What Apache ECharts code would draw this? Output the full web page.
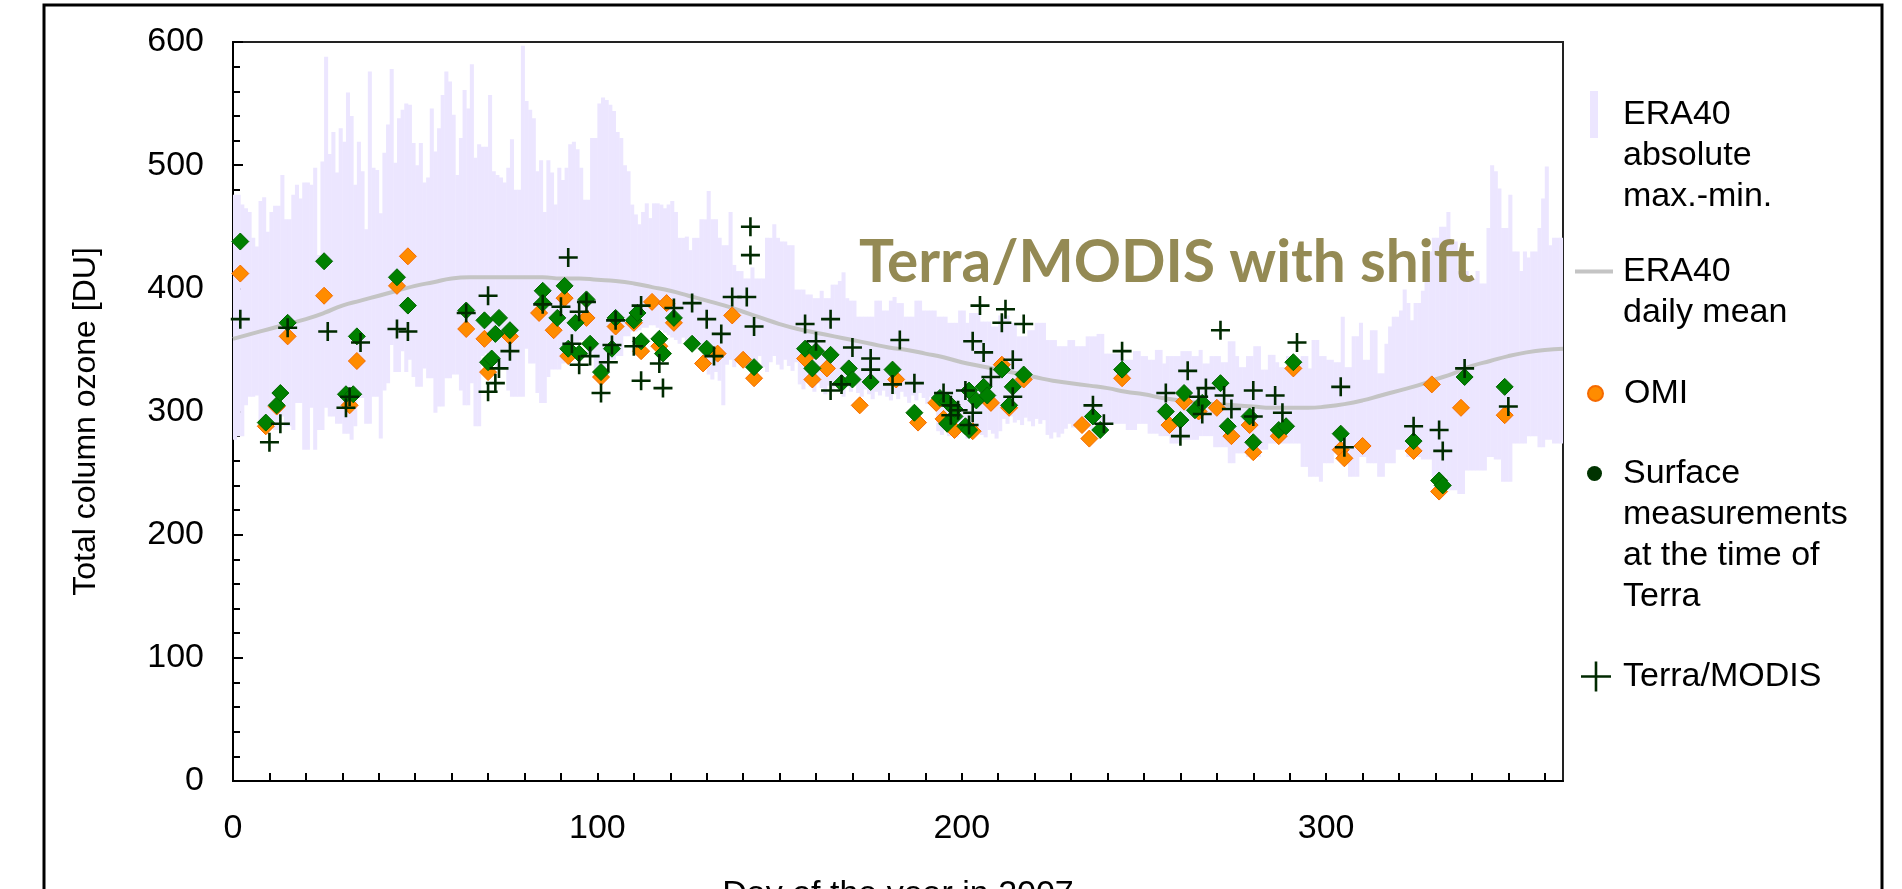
<!DOCTYPE html>
<html>
<head>
<meta charset="utf-8">
<title>Total column ozone 2007</title>
<script src="https://cdn.jsdelivr.net/npm/echarts@6/dist/echarts.min.js"></script>
<style>
  html, body { margin: 0; padding: 0; background: #fff; }
  #chart { width: 1902px; height: 889px; }
</style>
</head>
<body>
<div id="chart"></div>
<script>
// ERA40 absolute daily max / min (DU), day 0..364
var era40Max = [
    476, 476, 468, 465, 462, 441, 434, 471, 474, 446,
    462, 467, 467, 492, 456, 456, 476, 484, 473, 486,
    486, 484, 498, 427, 503, 588, 509, 527, 494, 530,
    519, 559, 540, 484, 519, 495, 448, 576, 498, 496,
    461, 510, 533, 578, 502, 538, 545, 550, 549, 518,
    500, 518, 486, 490, 546, 511, 530, 557, 576, 568,
    541, 492, 522, 561, 546, 582, 506, 517, 515, 515,
    557, 495, 492, 490, 486, 498, 521, 480, 480, 597,
    552, 545, 538, 495, 504, 462, 504, 494, 468, 498,
    488, 498, 517, 519, 513, 498, 472, 472, 522, 522,
    550, 555, 553, 549, 544, 527, 522, 500, 495, 468,
    460, 452, 462, 469, 457, 469, 469, 468, 465, 468,
    471, 462, 441, 441, 442, 431, 441, 441, 456, 456,
    479, 456, 456, 441, 435, 435, 462, 419, 414, 414,
    408, 408, 417, 408, 408, 408, 441, 441, 452, 441,
    438, 438, 435, 435, 399, 399, 399, 395, 395, 392,
    392, 398, 392, 392, 403, 403, 406, 413, 392, 390,
    390, 377, 377, 377, 377, 377, 390, 390, 382, 382,
    390, 393, 388, 388, 377, 377, 377, 390, 390, 382,
    382, 382, 382, 377, 377, 377, 372, 372, 372, 382,
    382, 372, 380, 380, 380, 373, 373, 373, 369, 369,
    378, 378, 378, 372, 372, 361, 361, 361, 366, 366,
    372, 372, 372, 358, 358, 358, 353, 353, 353, 358,
    358, 353, 353, 353, 361, 361, 361, 363, 363, 347,
    347, 347, 347, 347, 342, 342, 342, 349, 349, 345,
    345, 342, 342, 350, 350, 339, 345, 345, 345, 345,
    349, 349, 349, 345, 345, 350, 339, 339, 345, 345,
    345, 340, 340, 357, 357, 345, 336, 336, 345, 345,
    353, 353, 334, 334, 346, 346, 340, 336, 336, 345,
    345, 339, 339, 345, 345, 335, 358, 358, 345, 345,
    342, 342, 340, 340, 377, 336, 336, 361, 361, 372,
    342, 342, 366, 366, 331, 331, 355, 369, 377, 377,
    382, 399, 388, 374, 388, 388, 398, 414, 430, 441,
    441, 450, 450, 462, 438, 438, 414, 438, 414, 408,
    408, 414, 404, 404, 449, 500, 495, 481, 449, 449,
    476, 430, 430, 414, 430, 425, 430, 430, 449, 473,
    499, 435, 441, 441, 441
];
var era40Min = [
    277, 280, 280, 305, 312, 312, 313, 290, 290, 290,
    290, 285, 285, 296, 288, 288, 285, 307, 307, 269,
    269, 303, 269, 285, 285, 303, 296, 296, 290, 290,
    282, 282, 277, 288, 311, 311, 290, 290, 312, 312,
    278, 317, 323, 354, 332, 332, 349, 332, 342, 328,
    320, 320, 335, 327, 327, 299, 304, 304, 327, 327,
    330, 330, 317, 305, 305, 323, 288, 288, 345, 347,
    347, 345, 334, 334, 334, 317, 312, 312, 312, 312,
    351, 339, 339, 315, 307, 307, 328, 334, 334, 334,
    339, 345, 345, 354, 354, 358, 358, 347, 347, 331,
    331, 331, 336, 342, 342, 345, 345, 361, 361, 365,
    365, 366, 368, 368, 370, 370, 368, 366, 364, 362,
    360, 358, 355, 360, 356, 352, 358, 354, 350, 356,
    330, 326, 332, 325, 305, 338, 342, 336, 340, 344,
    338, 335, 342, 338, 345, 336, 332, 340, 345, 338,
    334, 342, 337, 333, 340, 322, 318, 325, 320, 316,
    323, 319, 314, 321, 317, 322, 318, 312, 320, 316,
    321, 315, 312, 318, 314, 310, 316, 313, 317, 312,
    309, 314, 310, 316, 312, 307, 313, 309, 315, 311,
    306, 312, 308, 284, 281, 286, 280, 283, 279, 285,
    282, 278, 284, 280, 286, 281, 279, 285, 282, 278,
    284, 294, 290, 296, 291, 293, 289, 295, 292, 288,
    294, 290, 293, 281, 278, 283, 279, 282, 286, 290,
    287, 291, 288, 285, 290, 286, 289, 292, 288, 285,
    290, 290, 290, 290, 290, 285, 285, 285, 290, 290,
    290, 282, 282, 282, 280, 280, 280, 274, 274, 274,
    277, 277, 277, 277, 277, 280, 280, 280, 280, 271,
    271, 271, 271, 258, 258, 266, 266, 266, 263, 263,
    263, 263, 269, 269, 274, 274, 274, 274, 274, 274,
    274, 274, 274, 255, 255, 247, 247, 247, 243, 258,
    258, 258, 266, 266, 266, 266, 247, 247, 247, 263,
    263, 258, 258, 258, 247, 247, 258, 258, 258, 269,
    269, 269, 263, 263, 263, 263, 261, 261, 261, 247,
    247, 247, 247, 236, 236, 236, 233, 233, 252, 252,
    252, 252, 252, 252, 263, 263, 261, 261, 243, 243,
    243, 274, 274, 274, 274, 280, 280, 280, 271, 271,
    277, 277, 274, 274, 274
];

// ERA40 daily mean, read every 5 days
var meanDays = [];
for (var i = 0; i <= 365; i += 5) meanDays.push(i);
var meanValues = [
    359, 363, 367, 371, 375, 380, 386, 390, 394, 398,
    402, 405, 408, 409, 409, 409, 409, 409, 408, 408,
    407, 406, 404, 401, 398, 394, 390, 386, 381, 376,
    371, 367, 364, 361, 358, 355, 352, 350, 347, 344,
    340, 337, 334, 331, 328, 325, 323, 321, 319, 316,
    314, 311, 309, 307, 306, 305, 304, 303, 303, 303,
    304, 306, 309, 313, 317, 321, 326, 331, 337, 341,
    345, 348, 350, 351
];

// [day, DU]
var omiPoints = [
    [2, 412], [9, 288], [12, 304], [15, 361], [25, 394], [32, 305], [34, 341],
    [45, 402], [48, 426], [64, 367], [69, 359], [70, 332], [76, 361], [84, 380],
    [88, 366], [91, 392], [92, 345], [97, 376], [101, 328], [105, 369], [110, 372],
    [112, 349], [115, 389], [117, 353], [119, 388], [121, 372], [129, 339], [133, 347],
    [137, 378], [140, 342], [143, 327], [157, 343], [159, 326], [163, 335], [172, 305],
    [182, 326], [188, 291], [193, 307], [195, 294], [198, 285], [203, 284], [208, 307],
    [211, 338], [213, 303], [217, 326], [233, 289], [235, 278], [244, 327], [257, 289],
    [261, 308], [265, 300], [270, 303], [274, 280], [279, 289], [280, 267], [287, 280],
    [291, 335], [304, 269], [305, 262], [310, 272], [324, 268], [329, 322], [331, 235],
    [337, 303], [349, 297]
];
var surfacePoints = [
    [2, 438], [9, 291], [12, 305], [13, 315], [15, 372], [25, 422], [31, 314],
    [33, 314], [34, 361], [45, 409], [48, 386], [64, 382], [69, 374], [70, 340],
    [71, 343], [72, 363], [73, 376], [76, 366], [85, 398], [85, 388], [89, 376],
    [91, 402], [92, 351], [94, 372], [95, 347], [97, 391], [98, 355], [101, 332],
    [104, 351], [105, 376], [110, 374], [111, 380], [112, 357], [117, 359], [118, 347],
    [121, 376], [126, 355], [130, 351], [143, 336], [157, 351], [159, 335], [160, 349],
    [164, 346], [167, 323], [169, 335], [170, 326], [175, 324], [181, 334], [187, 299],
    [194, 311], [196, 308], [196, 290], [198, 296], [198, 302], [201, 288], [202, 317],
    [202, 285], [204, 309], [206, 320], [207, 313], [211, 334], [213, 305], [214, 320],
    [217, 330], [236, 296], [238, 285], [244, 334], [256, 300], [260, 293], [261, 315],
    [264, 301], [266, 307], [271, 323], [273, 288], [279, 296], [280, 275], [287, 285],
    [289, 288], [291, 340], [304, 282], [324, 276], [331, 244], [332, 240], [338, 328],
    [349, 320]
];
var modisPoints = [
    [2, 375], [10, 275], [13, 290], [15, 368], [26, 365], [31, 303], [32, 312],
    [35, 356], [45, 367], [48, 365], [64, 380], [70, 394], [70, 316], [72, 323],
    [73, 335], [76, 349], [85, 387], [90, 385], [92, 425], [93, 355], [95, 381],
    [95, 338], [97, 389], [98, 345], [101, 315], [103, 340], [104, 354], [105, 374],
    [110, 353], [112, 386], [112, 325], [117, 339], [118, 319], [121, 384], [126, 388],
    [130, 375], [132, 345], [134, 363], [137, 393], [141, 393], [142, 450], [142, 427],
    [143, 369], [157, 371], [160, 357], [164, 375], [164, 317], [167, 322], [170, 352],
    [175, 343], [175, 334], [181, 322], [183, 358], [187, 323], [195, 315], [197, 305],
    [197, 297], [199, 301], [201, 317], [202, 289], [203, 299], [203, 357], [205, 386],
    [206, 348], [208, 328], [211, 372], [212, 383], [214, 342], [214, 312], [217, 371],
    [236, 305], [239, 290], [244, 349], [256, 315], [260, 280], [262, 333], [265, 312],
    [266, 298], [267, 319], [271, 366], [272, 313], [274, 302], [280, 317], [280, 296],
    [286, 313], [288, 299], [292, 356], [304, 320], [305, 271], [324, 288], [331, 285],
    [332, 268], [338, 335], [350, 304]
];

var xLabelDays = [0, 100, 200, 300];

var FONT = 'Liberation Sans';
var FONT_SIZE = 34;
var PLUS = 'path://M8.2,0H10.8V8.2H19V10.8H10.8V19H8.2V10.8H0V8.2H8.2Z';
var PLUS_LEGEND = 'path://M13.7,0H16.3V13.7H30V16.3H16.3V30H13.7V16.3H0V13.7H13.7Z';

var bandData = era40Max.map(function (mx, d) { return [d, era40Min[d], mx]; });
var meanData = meanDays.map(function (d, i) { return [d, meanValues[i]]; });

function renderBand(params, api) {
    var d = api.value(0);
    var p0 = api.coord([d, api.value(2)]);
    var p1 = api.coord([d + 1, api.value(1)]);
    return {
        type: 'rect',
        shape: { x: p0[0], y: p0[1], width: p1[0] - p0[0] + 0.4, height: p1[1] - p0[1] },
        style: { fill: '#ECE6FF' }
    };
}

// One legend box per entry. The text block is centred on the icon, so blank
// lines are put in front of multi-line names to keep the icon on the first line.
var LINE_H = 41;
function legendBox(name, nLines, opts) {
    var c = (nLines - 1) * LINE_H + 20;   // icon centre inside the item
    return {
        data: [Object.assign({ name: name }, opts.item || {})],
        orient: 'vertical',
        left: opts.left,
        top: opts.y - c,
        padding: 0,
        itemGap: 0,
        itemWidth: opts.w,
        itemHeight: 2 * c,
        selectedMode: false,
        formatter: new Array(nLines).join('\n') + '{name}',
        textStyle: {
            fontFamily: FONT,
            fontSize: FONT_SIZE,
            color: '#000',
            lineHeight: LINE_H,
            padding: [0, 0, 0, opts.padLeft]
        }
    };
}

var NAME_BAND = 'ERA40\nabsolute\nmax.-min.';
var NAME_MEAN = 'ERA40\ndaily mean';
var NAME_OMI = 'OMI';
var NAME_SURF = 'Surface\nmeasurements\nat the time of\nTerra';
var NAME_MODIS = 'Terra/MODIS';

var chart = echarts.init(document.getElementById('chart'));
var option = {
    animation: false,
    backgroundColor: '#fff',
    title: {
        text: 'Terra/MODIS with shift',
        left: 859,
        top: 234,
        padding: 0,
        textStyle: { fontFamily: 'Lato', fontWeight: 'bold', fontSize: 58.5, color: '#948A54' }
    },
    graphic: [{
        type: 'rect',
        silent: true,
        shape: { x: 44, y: 5, width: 1838, height: 920 },
        style: { fill: 'none', stroke: '#000', lineWidth: 3 }
    }],
    legend: [
        legendBox(NAME_BAND, 3, { left: 1590, y: 114, w: 8, padLeft: 20, item: { icon: 'path://M0,0H8V47H0Z' } }),
        legendBox(NAME_MEAN, 2, { left: 1575, y: 271, w: 38, padLeft: 5, item: { icon: 'path://M0,0H38V4H0Z' } }),
        legendBox(NAME_OMI, 1, { left: 1587, y: 393, w: 15, padLeft: 16, item: { icon: 'circle' } }),
        legendBox(NAME_SURF, 4, { left: 1587, y: 473, w: 15, padLeft: 16,
            item: { icon: 'circle', itemStyle: { color: '#003300', borderWidth: 0 } } }),
        legendBox(NAME_MODIS, 1, { left: 1581, y: 676, w: 30, padLeft: 7, item: { icon: PLUS_LEGEND } })
    ],
    grid: {
        left: 233, top: 42, right: 339, bottom: 108,
        outerBoundsMode: 'none',
        containLabel: false,
        show: true, borderColor: '#222', borderWidth: 2, backgroundColor: 'transparent'
    },
    xAxis: {
        type: 'value',
        min: 0, max: 365, interval: 10,
        name: 'Day of the year in 2007',
        nameLocation: 'middle',
        nameGap: 97,
        nameTextStyle: { fontFamily: FONT, fontSize: FONT_SIZE, color: '#000' },
        axisLine: { lineStyle: { color: '#000', width: 2 } },
        axisTick: { inside: true, length: 8, lineStyle: { color: '#000', width: 2 } },
        axisLabel: {
            fontFamily: FONT, fontSize: FONT_SIZE, color: '#000', margin: 31,
            showMaxLabel: false,
            formatter: function (v) { return xLabelDays.indexOf(v) >= 0 ? String(v) : ''; }
        },
        splitLine: { show: false }
    },
    yAxis: {
        type: 'value',
        min: 0, max: 600, interval: 100,
        name: 'Total column ozone [DU]',
        nameLocation: 'middle',
        nameGap: 131,
        nameTextStyle: { fontFamily: FONT, fontSize: 32, color: '#000', padding: [0, 20, 0, 0] },
        axisLine: { show: true, lineStyle: { color: '#000', width: 2 } },
        axisTick: { inside: true, length: 10, lineStyle: { color: '#000', width: 2 } },
        minorTick: { show: true, splitNumber: 5, length: 7, lineStyle: { color: '#000', width: 2 } },
        axisLabel: { fontFamily: FONT, fontSize: FONT_SIZE, color: '#000', margin: 29 },
        splitLine: { show: false }
    },
    series: [
        {
            name: NAME_BAND,
            type: 'custom',
            renderItem: renderBand,
            clip: true,
            itemStyle: { color: '#ECE6FF' },
            encode: { x: 0, y: [1, 2] },
            data: bandData,
            z: 1
        },
        {
            name: NAME_MEAN,
            type: 'line',
            smooth: true,
            symbol: 'none',
            lineStyle: { color: '#C4C4C4', width: 4 },
            itemStyle: { color: '#C4C4C4' },
            data: meanData,
            z: 2
        },
        {
            name: NAME_OMI,
            type: 'scatter',
            symbol: 'diamond',
            symbolSize: 17,
            itemStyle: { color: '#FF8C00', borderColor: '#F56A00', borderWidth: 1, opacity: 1 },
            data: omiPoints,
            z: 3
        },
        {
            name: NAME_SURF,
            type: 'scatter',
            symbol: 'diamond',
            symbolSize: 17,
            itemStyle: { color: '#008000', borderColor: '#006400', borderWidth: 1, opacity: 1 },
            data: surfacePoints,
            z: 4
        },
        {
            name: NAME_MODIS,
            type: 'scatter',
            symbol: PLUS,
            symbolSize: 19,
            itemStyle: { color: '#002A00', opacity: 1 },
            data: modisPoints,
            z: 5
        }
    ]
};
chart.setOption(option);
</script>
</body>
</html>
